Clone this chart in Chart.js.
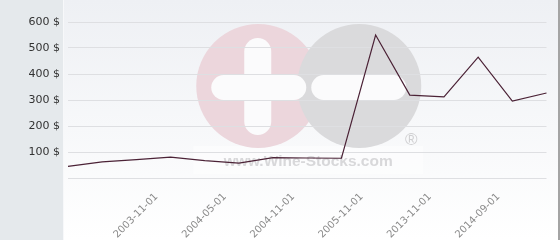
<!DOCTYPE html>
<html>
<head>
<meta charset="utf-8">
<script src="https://cdn.jsdelivr.net/npm/chart.js@4"></script>
<style>
    html, body { margin: 0; padding: 0; background: #fff; }
    #wrap { width: 560px; height: 240px; }
</style>
</head>
<body>
<div id="wrap"><canvas id="price_chart"></canvas></div>
<script>
// categories (only some of them are labelled on the axis)
const dates = ['2003-05-01', '2003-08-01', '2003-10-01', '2003-11-01', '2004-02-01',
    '2004-05-01', '2004-08-01', '2004-11-01', '2005-05-01', '2005-11-01',
    '2012-11-01', '2013-11-01', '2014-05-01', '2014-09-01', '2015-03-01'];
const shownDates = ['2003-11-01', '2004-05-01', '2004-11-01', '2005-11-01', '2013-11-01', '2014-09-01'];
const prices = [45, 62, 71, 80, 67, 57, 78, 77, 76, 550, 319, 312, 465, 296, 327];
const yTickValues = [0, 100, 200, 300, 400, 500, 600];

// background panel + watermark, drawn before the grid
const backdrop = {
    id: 'backdrop',
    beforeDraw(chart) {
        const ctx = chart.ctx;
        const a = chart.chartArea;
        ctx.save();
        ctx.fillStyle = '#e5e9ec';
        ctx.fillRect(0, 0, 63, chart.height);
        const g = ctx.createLinearGradient(0, 0, 0, chart.height);
        g.addColorStop(0, '#eef0f4');
        g.addColorStop(1, '#ffffff');
        ctx.fillStyle = g;
        ctx.fillRect(63, 0, 496, chart.height);
        ctx.fillStyle = '#f7f8fa';
        ctx.fillRect(63, 0, 1, chart.height);
        ctx.fillStyle = '#a4a4a4';
        ctx.fillRect(558, 0, 2, chart.height);

        // wine-stocks logo
        const cx = (a.left + a.right) / 2 + 1;
        const cy = 86;
        ctx.fillStyle = 'rgba(255,255,255,0.45)';
        ctx.fillRect(cx - 115, cy + 60, 230, 28);
        ctx.fillStyle = '#ecd6dc';
        ctx.beginPath(); ctx.arc(cx - 50, cy, 62, 0, Math.PI * 2); ctx.fill();
        ctx.fillStyle = '#dadadc';
        ctx.beginPath(); ctx.arc(cx + 51, cy, 62, 0, Math.PI * 2); ctx.fill();
        ctx.fillStyle = '#fbfbfc';
        const bar = (x, y, w, h) => {
            ctx.beginPath();
            ctx.roundRect(x, y, w, h, Math.min(w, h) / 2);
            ctx.fill();
        };
        bar(cx - 97, cy - 11, 95, 25);
        bar(cx - 64, cy - 48, 27, 97);
        bar(cx + 3, cy - 11, 95, 25);
        ctx.fillStyle = '#cfcfd1';
        ctx.font = '17px "Liberation Sans"';
        ctx.textAlign = 'center';
        ctx.textBaseline = 'middle';
        ctx.fillText('\u00AE', cx + 103, cy + 54);
        ctx.fillStyle = '#d8d8da';
        ctx.font = 'bold 15.5px "Liberation Sans"';
        ctx.textBaseline = 'alphabetic';
        ctx.fillText('www.Wine-Stocks.com', cx, cy + 80);
        ctx.restore();
    }
};

new Chart(document.getElementById('price_chart'), {
    type: 'line',
    data: {
        labels: dates,
        datasets: [{
            data: prices,
            borderColor: '#4b2236',
            borderWidth: 1.2,
            pointRadius: 0,
            tension: 0,
            fill: false
        }]
    },
    options: {
        responsive: true,
        maintainAspectRatio: false,
        animation: false,
        layout: { padding: { top: 22, right: 5, left: 0, bottom: 0 } },
        plugins: {
            legend: { display: false },
            tooltip: { enabled: false }
        },
        scales: {
            x: {
                offset: false,
                grid: { display: false },
                border: { display: false },
                ticks: {
                    autoSkip: false,
                    minRotation: 45,
                    maxRotation: 45,
                    labelOffset: -14,
                    padding: 5,
                    color: '#8a8a8a',
                    font: { family: 'DejaVu Sans', size: 10 },
                    callback: function (v, i) {
                        const d = dates[i];
                        return shownDates.includes(d) ? d : '';
                    }
                },
                afterFit: s => { s.height = 62; }
            },
            y: {
                min: 0,
                max: 600,
                grid: { color: '#dedfe2', drawTicks: false },
                border: { display: false },
                afterBuildTicks: s => { s.ticks = yTickValues.map(v => ({ value: v })); },
                ticks: {
                    padding: 8,
                    color: '#333333',
                    font: { family: 'DejaVu Sans', size: 11 },
                    callback: v => (v ? v + ' $' : '')
                },
                afterFit: s => { s.width = 68; }
            }
        }
    },
    plugins: [backdrop]
});
</script>
</body>
</html>
